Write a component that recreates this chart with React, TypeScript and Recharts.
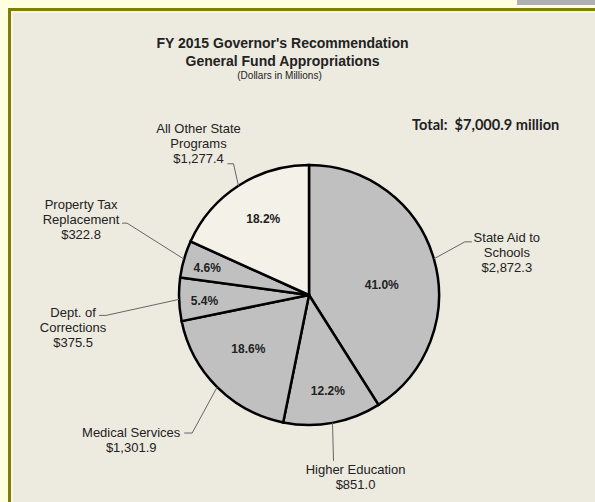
import React from 'react';
import { PieChart, Pie, Cell } from 'recharts';

// FY 2015 General Fund appropriations, dollars in millions
const categories = [
  'State Aid to\nSchools',
  'Higher Education',
  'Medical Services',
  'Dept. of\nCorrections',
  'Property Tax\nReplacement',
  'All Other State\nPrograms',
];
const amounts = [2872.3, 851.0, 1301.9, 375.5, 322.8, 1277.4];
const totalLabel = 'Total:  $7,000.9 million';

const sliceFills = ['#c0c0c0', '#c0c0c0', '#c0c0c0', '#c0c0c0', '#c0c0c0', '#f4f1e9'];

// label placement tweaks per slice (relative to the slice edge / mid angle)
const outerLayout = [
  { ex: 31, ey: -17, tail: 7, tx: 35, ty: -4 },
  { ex: 1, ey: 38, tail: 0, tx: 22, ty: 9 },
  { ex: -25, ey: 46, tail: -8, tx: -53, ty: -1 },
  { ex: -73, ey: 16, tail: -7, tx: -26, ty: -3 },
  { ex: -57, ey: -36, tail: -5, tx: -41, ty: -19 },
  { ex: -5, ey: -22, tail: -6, tx: -29, ty: -35 },
];
const innerLayout = [
  { r: 0.565, da: -8.4 },
  { r: 0.75, da: 0.7 },
  { r: 0.625, da: -3.4 },
  { r: 0.805, da: 1.4 },
  { r: 0.81, da: 1 },
  { r: 0.68, da: -1.7 },
];

const total = amounts.reduce((s, v) => s + v, 0);
const data = categories.map((name, i) => ({ name, value: amounts[i] }));

const RAD = Math.PI / 180;
const fmt = (v: number) =>
  '$' + v.toLocaleString('en-US', { minimumFractionDigits: 1, maximumFractionDigits: 1 });

function renderLabel(props: any) {
  const { cx, cy, midAngle, outerRadius, index, value } = props;
  const o = outerLayout[index];
  const inn = innerLayout[index];
  const sx = cx + outerRadius * Math.cos(-midAngle * RAD);
  const sy = cy + outerRadius * Math.sin(-midAngle * RAD);
  const mx = sx + o.ex;
  const my = sy + o.ey;
  const endX = mx + o.tail;
  const a = (midAngle + inn.da) * RAD;
  const ix = cx + outerRadius * inn.r * Math.cos(-a);
  const iy = cy + outerRadius * inn.r * Math.sin(-a);
  const lines = [...categories[index].split('\n'), fmt(value)];
  const pct = ((value / total) * 100).toFixed(1) + '%';
  return (
    <g key={`lbl-${index}`}>
      <text
        x={ix}
        y={iy}
        textAnchor="middle"
        dominantBaseline="central"
        fontSize={12}
        fontWeight="bold"
        fill="#222"
        fontFamily="'Liberation Sans', Arial, sans-serif"
      >
        {pct}
      </text>
      <polyline
        points={`${sx},${sy} ${mx},${my} ${endX},${my}`}
        fill="none"
        stroke="#666"
        strokeWidth={1}
      />
      {lines.map((ln, j) => (
        <text
          key={j}
          x={endX + o.tx}
          y={my + o.ty + j * 15}
          textAnchor="middle"
          dominantBaseline="central"
          fontSize={13}
          fill="#222"
          fontFamily="'Liberation Sans', Arial, sans-serif"
        >
          {ln}
        </text>
      ))}
    </g>
  );
}

export default function App() {
  return (
    <div
      style={{
        position: 'absolute',
        left: 0,
        top: 0,
        width: 595,
        height: 502,
        background: '#ffffe0',
        overflow: 'hidden',
      }}
    >
      <div style={{ position: 'absolute', left: 517, top: 0, width: 78, height: 5, background: '#b0b0b0' }} />
      <div
        style={{
          position: 'absolute',
          left: 8,
          top: 8,
          width: 620,
          height: 520,
          border: '3px solid #808000',
          background: '#edeae0',
          boxShadow: 'inset 2px 2px 0 #f5f3ee',
        }}
      />
      <div
        style={{
          position: 'absolute',
          left: 0,
          top: 34,
          width: 565,
          textAlign: 'center',
          fontFamily: "'Liberation Sans', Arial, sans-serif",
          color: '#222',
        }}
      >
        <div style={{ fontSize: 14, fontWeight: 'bold', lineHeight: '19px' }}>
          FY 2015 Governor's Recommendation
        </div>
        <div style={{ fontSize: 14, fontWeight: 'bold', lineHeight: '17px' }}>General Fund Appropriations</div>
        <div style={{ fontSize: 10, lineHeight: '11px', marginLeft: -6 }}>(Dollars in Millions)</div>
      </div>
      <div
        style={{
          position: 'absolute',
          left: 412,
          top: 116,
          fontFamily: 'Lato, sans-serif',
          fontWeight: 'bold',
          fontSize: 14.6,
          color: '#222',
          whiteSpace: 'pre',
        }}
      >
        {totalLabel}
      </div>
      <div style={{ position: 'absolute', left: 0, top: 0 }}>
        <PieChart width={595} height={502} margin={{ top: 0, right: 0, bottom: 0, left: 0 }}>
          <Pie
            data={data}
            dataKey="value"
            nameKey="name"
            cx={309}
            cy={295}
            outerRadius={130}
            startAngle={90}
            endAngle={-270}
            stroke="#000"
            strokeWidth={2.5}
            label={renderLabel}
            labelLine={false}
            isAnimationActive={false}
          >
            {data.map((d, i) => (
              <Cell key={d.name} fill={sliceFills[i]} />
            ))}
          </Pie>
        </PieChart>
      </div>
    </div>
  );
}
